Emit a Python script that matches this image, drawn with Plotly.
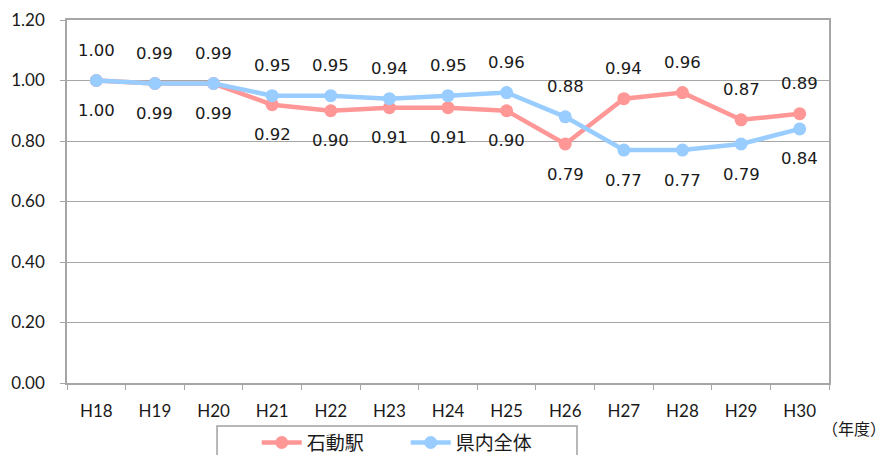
import plotly.graph_objects as go

# Fiscal years (Heisei era)
years = ["H18", "H19", "H20", "H21", "H22", "H23", "H24",
         "H25", "H26", "H27", "H28", "H29", "H30"]

# Index values per station / prefecture-wide
isurugi = [1.00, 0.99, 0.99, 0.92, 0.90, 0.91, 0.91,
           0.90, 0.79, 0.94, 0.96, 0.87, 0.89]
prefecture = [1.00, 0.99, 0.99, 0.95, 0.95, 0.94, 0.95,
              0.96, 0.88, 0.77, 0.77, 0.79, 0.84]

# Whether each series' labels sit above (+1) or below (-1) the point
isurugi_side = [-1] * 9 + [1] * 4
prefecture_side = [1] * 9 + [-1] * 4

RED = "#FF9797"
BLUE = "#99CCFF"
GRID = "#A6A6A6"
TEXT = "#1a1a1a"
NUM_FONT = "Lato"
LABEL_FONT = "DejaVu Sans"
JP_FONT = "Noto Sans CJK JP"

fig = go.Figure()
fig.add_trace(go.Scatter(
    x=years, y=isurugi, name="石動駅", mode="lines+markers",
    line=dict(color=RED, width=4.5), marker=dict(color=RED, size=13),
))
fig.add_trace(go.Scatter(
    x=years, y=prefecture, name="県内全体", mode="lines+markers",
    line=dict(color=BLUE, width=4.5), marker=dict(color=BLUE, size=13),
))

annotations = []
for vals, sides in ((isurugi, isurugi_side), (prefecture, prefecture_side)):
    for yr, v, s in zip(years, vals, sides):
        annotations.append(dict(
            x=yr, y=v, xref="x", yref="y", text=f"{v:.2f}",
            showarrow=False, yanchor="middle", yshift=30 * s,
            font=dict(family=LABEL_FONT, size=16.5, color=TEXT),
        ))

# Unit note to the right of the category labels
annotations.append(dict(
    x=1.0774, y=-0.124, xref="paper", yref="paper", xanchor="right",
    yanchor="middle", text="（年度）", showarrow=False,
    font=dict(family=JP_FONT, size=16, color=TEXT),
))

fig.update_layout(
    width=888, height=455,
    margin=dict(l=67, r=59, t=20, b=72, autoexpand=False),
    paper_bgcolor="white", plot_bgcolor="white",
    showlegend=True,
    legend=dict(
        orientation="h", x=0.249, y=-0.112, xanchor="left", yanchor="top",
        borderwidth=0, bgcolor="rgba(0,0,0,0)",
        font=dict(family=JP_FONT, size=19, color=TEXT),
        entrywidth=94, entrywidthmode="pixels",
        itemwidth=40, tracegroupgap=0,
    ),
    # frame around the legend, running off the bottom edge
    shapes=[dict(
        type="rect", xref="paper", yref="paper",
        x0=0.1969, x1=0.6693, y0=-0.5, y1=-0.1185,
        line=dict(color="#A0A0A0", width=1.5), fillcolor="white",
        layer="below",
    )],
    annotations=annotations,
)

fig.update_xaxes(
    type="category", range=[-0.5, 12.5], showgrid=False,
    showline=True, linecolor=GRID, linewidth=1.5, mirror=True,
    ticks="outside", tickson="boundaries", ticklen=5, tickcolor=GRID,
    ticklabelstandoff=12,
    tickfont=dict(family=NUM_FONT, size=17, color=TEXT),
)
fig.update_yaxes(
    range=[0, 1.2], dtick=0.2, tickformat=".2f",
    showgrid=True, gridcolor=GRID, gridwidth=1,
    showline=True, linecolor=GRID, linewidth=1.5, mirror=True,
    ticks="outside", ticklen=5, tickcolor=GRID,
    ticklabelstandoff=12,
    tickfont=dict(family=NUM_FONT, size=17, color=TEXT),
    zeroline=False,
)

fig.write_html("out.html")
